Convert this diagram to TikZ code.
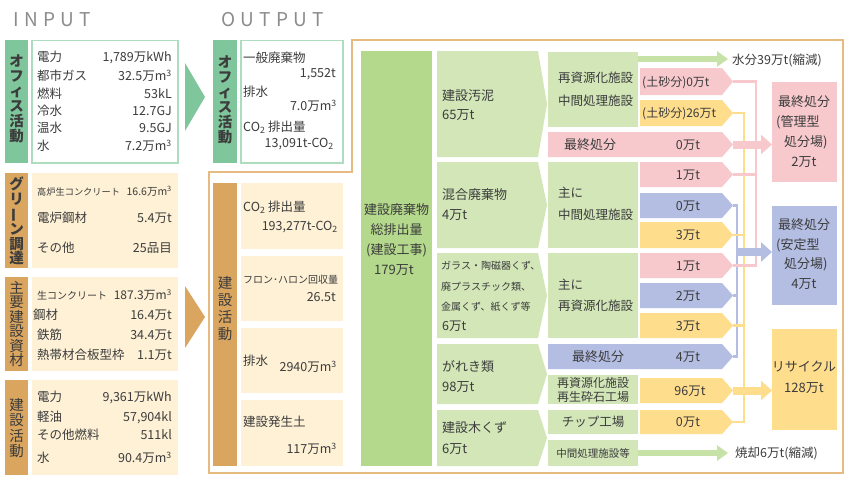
\documentclass[tikz,border=0pt]{standalone}
\usepackage{fontspec}
\usepackage{graphicx}
\setmainfont{Noto Sans CJK JP}
\usetikzlibrary{arrows.meta}
\definecolor{txtc}{HTML}{3C3C3C}
\definecolor{ttlc}{HTML}{8C8C8C}
\definecolor{offg}{HTML}{7FC69C}
\definecolor{offb}{HTML}{AEDCBF}
\definecolor{tanc}{HTML}{D9A55F}
\definecolor{cream}{HTML}{FEF1D6}
\definecolor{bigg}{HTML}{B4D88C}
\definecolor{lgrn}{HTML}{D2E6B8}
\definecolor{agrn}{HTML}{C7E2A7}
\definecolor{pinkc}{HTML}{F7C9CD}
\definecolor{bluec}{HTML}{B4BEE3}
\definecolor{yelc}{HTML}{FEDD8D}
\definecolor{orgl}{HTML}{E5BB7F}
\newcommand\myfs[2]{\fontsize{#1}{#2}\selectfont}
\newcommand\myvbar{\rotatebox[origin=c]{90}{ー}}
\newcommand\cub{\textsuperscript{3}}
\newcommand\chevr[7]{%
  \fill[#7] (#2,#3) -- (#4,#3) -- (#6,{(#3+#5)/2}) -- (#4,#5) -- (#2,#5) -- cycle;
  \coordinate (#1) at (#6,{(#3+#5)/2});}
\tikzset{
  tx/.style={inner sep=0pt, text=txtc, font=\myfs{12.5}{14}, text height=9.8pt, text depth=0.6pt},
  tw/.style={tx, anchor=west},
  te/.style={tx, anchor=east},
  tcn/.style={tx, anchor=center},
  vlab/.style={inner sep=0pt, text=txtc, align=center},
  ttl/.style={inner sep=0pt, anchor=west, text=ttlc, font=\myfs{19}{22}\addfontfeature{LetterSpace=28}},
  plink/.style={draw=pinkc, line width=2.5pt},
  ylink/.style={draw=yelc, line width=2.5pt},
  blink/.style={draw=bluec, line width=2.5pt},
  fat/.style={line width=8pt, -{Triangle[length=11pt,width=19pt]}},
  thinarr/.style={line width=6pt, draw=agrn, -{Triangle[length=11pt,width=15pt]}},
  rbox/.style={inner sep=0pt, minimum width=65pt, minimum height=100pt, anchor=north west},
}
\begin{document}
\begin{tikzpicture}[x=1pt,y=-1pt]
\useasboundingbox (0,0) rectangle (850,480);
\fill[white] (0,0) rectangle (850,480);

% titles
\node[ttl] (tIn) at (13,20) {INPUT};
\node[ttl] (tOut) at (221,20) {OUTPUT};

% ===== INPUT: office
\fill[offg] (5,40) rectangle (28,163);
\filldraw[draw=offb, fill=white, line width=1.2pt] (32,40.6) rectangle (178,163);
\node[vlab, font=\myfs{14.5}{15}\bfseries] (vOffIn) at (16.5,99) {オ\\フ\\ィ\\ス\\活\\動};
\node[tw] (i1a) at (37,57) {電力};      \node[te] (i1b) at (172,57) {1,789万kWh};
\node[tw] (i2a) at (37,76) {都市ガス};  \node[te] (i2b) at (172,76) {32.5万m\cub};
\node[tw] (i3a) at (37,94) {燃料};      \node[te] (i3b) at (172,94) {53kL};
\node[tw] (i4a) at (37,111) {冷水};     \node[te] (i4b) at (172,111) {12.7GJ};
\node[tw] (i5a) at (37,128) {温水};     \node[te] (i5b) at (172,128) {9.5GJ};
\node[tw] (i6a) at (37,146) {水};       \node[te] (i6b) at (172,146) {7.2万m\cub};

% ===== INPUT: green procurement
\fill[tanc] (5,173) rectangle (28,268);
\fill[cream] (32,173) rectangle (178,268);
\node[vlab, font=\myfs{14.5}{14.5}\bfseries] (vGreen) at (16.5,221) {グ\\リ\\\myvbar\\ン\\調\\達};
\node[tw, font=\myfs{9.2}{11}] (g1a) at (37,191) {高炉生コンクリート};
\node[te, font=\myfs{10.5}{12}] (g1b) at (172,191) {16.6万m\cub};
\node[tw] (g2a) at (37,218) {電炉鋼材};  \node[te] (g2b) at (172,218) {5.4万t};
\node[tw] (g3a) at (37,248) {その他};    \node[te] (g3b) at (172,248) {25品目};

% ===== INPUT: main materials
\fill[tanc] (5,277) rectangle (28,371);
\fill[cream] (32,277) rectangle (178,371);
\node[vlab, font=\myfs{14.5}{14.5}] (vMat) at (16.5,324) {主\\要\\建\\設\\資\\材};
\node[tw, font=\myfs{10}{12}] (m1a) at (37,295) {生コンクリート};
\node[te, font=\myfs{12}{14}] (m1b) at (172,295) {187.3万m\cub};
\node[tw] (m2a) at (33,315) {鋼材};           \node[te] (m2b) at (172,315) {16.4万t};
\node[tw] (m3a) at (37,335) {鉄筋};           \node[te] (m3b) at (172,335) {34.4万t};
\node[tw] (m4a) at (37,355) {熱帯材合板型枠}; \node[te] (m4b) at (172,355) {1.1万t};

% ===== INPUT: construction activity
\fill[tanc] (5,380) rectangle (28,475);
\fill[cream] (32,380) rectangle (178,475);
\node[vlab, font=\myfs{14.5}{15.5}] (vActIn) at (16.5,428) {建\\設\\活\\動};
\node[tw] (a1a) at (37,397) {電力};       \node[te] (a1b) at (172,397) {9,361万kWh};
\node[tw] (a2a) at (37,417) {軽油};       \node[te] (a2b) at (172,417) {57,904kl};
\node[tw] (a3a) at (37,435) {その他燃料}; \node[te] (a3b) at (172,435) {511kl};
\node[tw] (a4a) at (37,458) {水};         \node[te] (a4b) at (172,458) {90.4万m\cub};

% input -> output arrows
\fill[offg] (185,63) -- (205,97) -- (185,131) -- cycle;
\fill[tanc] (185,286) -- (205,317) -- (185,348) -- cycle;

% ===== OUTPUT: office
\fill[offg] (213,40) rectangle (237,163);
\filldraw[draw=offb, fill=white, line width=1.2pt] (241,40.6) rectangle (343,163);
\node[vlab, font=\myfs{14.5}{15}\bfseries] (vOffOut) at (225,100) {オ\\フ\\ィ\\ス\\活\\動};
\node[tw] (o1a) at (243,58) {一般廃棄物};
\node[te] (o1b) at (336,73) {1,552t};
\node[tw] (o2a) at (243,92) {排水};
\node[te] (o2b) at (337,106) {7.0万m\cub};
\node[tw] (o3a) at (243,127) {CO\textsubscript{2} 排出量};
\node[te] (o3b) at (334,143) {13,091t-CO\textsubscript{2}};

% orange outline of construction output
\draw[orgl, line width=1.5pt] (209,172) -- (352,172) -- (352,40) -- (843,40) -- (843,473) -- (209,473) -- cycle;

% ===== OUTPUT: construction activity
\fill[tanc] (213,183) rectangle (237,466);
\node[vlab, font=\myfs{14.5}{17}] (vActOut) at (225,309) {建\\設\\活\\動};
\fill[cream] (241,183) rectangle (343,249);
\fill[cream] (241,256) rectangle (343,321);
\fill[cream] (241,328) rectangle (343,393);
\fill[cream] (241,400) rectangle (343,466);
\node[tw] (c1a) at (243,207) {CO\textsubscript{2} 排出量};
\node[te] (c1b) at (338,226) {193,277t-CO\textsubscript{2}};
\node[tw, font=\myfs{10}{12}] (c2a) at (243,279) {フロン･ハロン回収量};
\node[te] (c2b) at (336,297) {26.5t};
\node[tw] (c3a) at (243,361) {排水};
\node[te] (c3b) at (337,367) {2940万m\cub};
\node[tw] (c4a) at (243,422) {建設発生土};
\node[te] (c4b) at (337,449) {117万m\cub};

% ===== total construction waste
\fill[bigg] (361,51) rectangle (432,466);
\node[tcn, font=\myfs{13}{15}] (bg1) at (396.5,210) {建設廃棄物};
\node[tcn, font=\myfs{13}{15}] (bg2) at (396.5,230) {総排出量};
\node[tcn, font=\myfs{13}{15}] (bg3) at (396.5,250) {(建設工事)};
\node[tcn, font=\myfs{13}{15}] (bg4) at (394,270) {179万t};

% ===== categories
\chevr{k1}{437}{51}{538}{157}{547}{lgrn}
\chevr{k2}{437}{162}{538}{248}{547}{lgrn}
\chevr{k3}{437}{253}{538}{338}{547}{lgrn}
\chevr{k4}{437}{344}{538}{404}{547}{lgrn}
\chevr{k5}{437}{410}{538}{466}{547}{lgrn}
\node[tw, font=\myfs{13}{14}] (k1a) at (442,96) {建設汚泥};
\node[tw, font=\myfs{13}{14}] (k1b) at (442,115) {65万t};
\node[tw, font=\myfs{13}{14}] (k2a) at (442,195) {混合廃棄物};
\node[tw, font=\myfs{13}{14}] (k2b) at (442,215) {4万t};
\node[tw, font=\myfs{10}{12}] (k3a) at (441,265) {ガラス・陶磁器くず、};
\node[tw, font=\myfs{10}{12}] (k3b) at (441,286) {廃プラスチック類、};
\node[tw, font=\myfs{10}{12}] (k3c) at (441,306) {金属くず、紙くず等};
\node[tw] (k3d) at (442,326) {6万t};
\node[tw, font=\myfs{13}{14}] (k4a) at (442,367) {がれき類};
\node[tw, font=\myfs{13}{14}] (k4b) at (442,387) {98万t};
\node[tw, font=\myfs{13}{14}] (k5a) at (442,428) {建設木くず};
\node[tw, font=\myfs{13}{14}] (k5b) at (442,449) {6万t};

% ===== treatment boxes
\fill[lgrn] (548,52) rectangle (638,127);
\fill[lgrn] (548,162) rectangle (638,248);
\fill[lgrn] (548,253) rectangle (638,338);
\fill[lgrn] (548,375) rectangle (638,404);
\fill[lgrn] (548,410) rectangle (638,434);
\fill[lgrn] (548,440) rectangle (638,466);
\node[tw] (p1a) at (558,78) {再資源化施設};
\node[tw] (p1b) at (558,101) {中間処理施設};
\node[tw] (p2a) at (558,193) {主に};
\node[tw] (p2b) at (558,215) {中間処理施設};
\node[tw] (p3a) at (558,285) {主に};
\node[tw] (p3b) at (558,306) {再資源化施設};
\node[tw, font=\myfs{12}{13}] (p4a) at (557,383) {再資源化施設};
\node[tw, font=\myfs{12}{13}] (p4b) at (557,397) {再生砕石工場};
\node[tcn] (p5) at (593,422) {チップ工場};
\node[tcn, font=\myfs{10.5}{12}] (p6) at (593,453) {中間処理施設等};

% ===== destination chevrons
\chevr{s1}{640}{68}{722}{95}{733}{pinkc}
\chevr{s2}{640}{100}{722}{126}{733}{yelc}
\chevr{r1}{548}{132}{722}{157}{733}{pinkc}
\chevr{s3}{640}{162}{722}{187}{733}{pinkc}
\chevr{s4}{640}{193}{722}{218}{733}{bluec}
\chevr{s5}{640}{222}{722}{248}{733}{yelc}
\chevr{s6}{640}{253}{722}{278}{733}{pinkc}
\chevr{s7}{640}{283}{722}{308}{733}{bluec}
\chevr{s8}{640}{313}{722}{338}{733}{yelc}
\chevr{r2}{548}{344}{722}{369}{733}{bluec}
\chevr{s9}{640}{378}{722}{403}{733}{yelc}
\chevr{s10}{640}{410}{722}{434}{733}{yelc}
\node[tw, font=\myfs{12}{14}] (s1t) at (642,81.5) {(土砂分)0万t};
\node[tw, font=\myfs{12}{14}] (s2t) at (642,113) {(土砂分)26万t};
\node[tw, font=\myfs{13}{14}] (r1a) at (564,144.5) {最終処分};
\node[tcn] (r1b) at (688,144.5) {0万t};
\node[tcn] (s3t) at (688,174.5) {1万t};
\node[tcn] (s4t) at (688,205.5) {0万t};
\node[tcn] (s5t) at (688,235) {3万t};
\node[tcn] (s6t) at (688,265.5) {1万t};
\node[tcn] (s7t) at (688,295.5) {2万t};
\node[tcn] (s8t) at (688,325.5) {3万t};
\node[tw, font=\myfs{13}{14}] (r2a) at (572,356.5) {最終処分};
\node[tcn] (r2b) at (688,356.5) {4万t};
\node[tcn] (s9t) at (690,390.5) {96万t};
\node[tcn] (s10t) at (688,422) {0万t};

% ===== final destinations
\node[rbox, fill=pinkc] (RB1) at (772,82) {};
\node[rbox, fill=bluec, minimum height=99pt] (RB2) at (772,206) {};
\node[rbox, fill=yelc, minimum height=101pt] (RB3) at (772,329) {};
\node[tcn, font=\myfs{13}{14}] (q1a) at (804,102) {最終処分};
\node[tw, font=\myfs{13}{14}] (q1b) at (776,122) {(管理型};
\node[tw, font=\myfs{13}{14}] (q1c) at (784,142) {処分場)};
\node[tcn, font=\myfs{13}{14}] (q1d) at (804,162) {2万t};
\node[tcn, font=\myfs{13}{14}] (q2a) at (804,225) {最終処分};
\node[tw, font=\myfs{13}{14}] (q2b) at (776,245) {(安定型};
\node[tw, font=\myfs{13}{14}] (q2c) at (784,264) {処分場)};
\node[tcn, font=\myfs{13}{14}] (q2d) at (804,284) {4万t};
\node[tcn, font=\myfs{13}{14}] (q3a) at (804,367) {リサイクル};
\node[tcn, font=\myfs{13}{14}] (q3b) at (804,388) {128万t};

% ===== connectors
\coordinate (bA) at (737,205.5);
\coordinate (bC) at (737,356.5);
\coordinate (bM) at (737,252);
\draw[blink] (s4) -- (bA) -- (bC) -- (r2);
\draw[blink] (s7) -- (s7 -| bA);

\coordinate (yA) at (744,113);
\coordinate (yB) at (744,235);
\coordinate (yC) at (744,325.5);
\coordinate (yD) at (744,422);
\draw[ylink] (s2) -- (yA) -- (yD) -- (s10);
\draw[ylink] (s5) -- (yB);
\draw[ylink] (s8) -- (yC);

\coordinate (pA) at (756,81.5);
\coordinate (pB) at (756,174.5);
\coordinate (pC) at (756,265.5);
\draw[plink] (s1) -- (pA) -- (pC) -- (s6);
\draw[plink] (s3) -- (pB);

\draw[fat, pinkc] (r1) -- (r1 -| RB1.west);
\draw[fat, bluec] (bM) -- (bM -| RB2.west);
\draw[fat, yelc] (s9) -- (s9 -| RB3.west);

% reduction arrows
\coordinate (w0) at (638,59);
\coordinate (w1) at (728,59);
\draw[thinarr] (w0) -- (w1);
\node[tw] (wt) at (732,60) {水分39万t(縮減)};
\coordinate (z0) at (638,453);
\coordinate (z1) at (728,453);
\draw[thinarr] (z0) -- (z1);
\node[tw] (zt) at (735,453) {焼却6万t(縮減)};
\end{tikzpicture}
\end{document}
